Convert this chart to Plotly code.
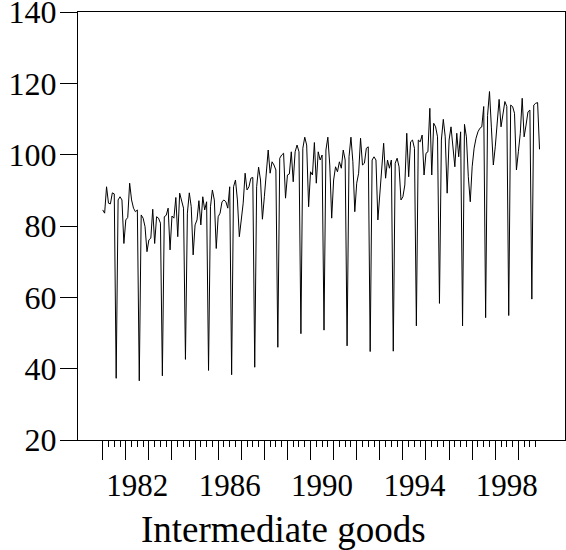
import plotly.graph_objects as go

# Monthly index of intermediate goods production, Jan 1981 - Dec 1999
start_year = 1981
index_values = [
    # 1981
    84.5, 83.6, 91.0, 86.4, 86.2, 89.3, 89.0, 37.3, 87.3, 88.2, 87.3, 75.1,
    # 1982
    81.7, 82.4, 92.0, 87.3, 85.0, 84.0, 84.5, 36.6, 83.1, 82.2, 79.8, 72.8,
    # 1983
    76.1, 76.6, 84.7, 75.1, 82.6, 82.2, 80.8, 38.0, 82.6, 83.0, 85.0, 73.3,
    # 1984
    82.8, 82.2, 88.0, 77.0, 89.2, 87.3, 85.0, 42.6, 83.6, 89.3, 85.4, 71.9,
    # 1985
    80.3, 81.7, 87.1, 80.3, 88.2, 84.5, 86.8, 39.5, 85.4, 90.1, 87.3, 73.7,
    # 1986
    82.6, 83.6, 86.8, 87.3, 86.8, 85.0, 91.0, 38.3, 91.0, 92.9, 87.3, 77.0,
    # 1987
    82.6, 86.4, 94.8, 90.1, 91.0, 93.4, 93.6, 40.4, 91.0, 96.5, 92.9, 81.9,
    # 1988
    88.2, 93.8, 101.3, 94.8, 98.0, 97.1, 95.7, 46.0, 99.0, 99.9, 100.4, 87.8,
    # 1989
    94.3, 94.6, 100.8, 92.4, 100.8, 102.7, 100.8, 49.8, 101.8, 104.9, 102.7, 85.4,
    # 1990
    95.2, 94.3, 103.4, 92.0, 100.8, 98.5, 99.9, 50.8, 101.3, 104.9, 97.1, 82.2,
    # 1991
    92.9, 96.6, 95.2, 98.0, 96.2, 101.3, 98.5, 46.4, 99.4, 104.9, 98.0, 84.0,
    # 1992
    92.0, 94.8, 104.6, 97.1, 97.6, 101.8, 102.2, 44.8, 98.5, 99.4, 98.5, 81.7,
    # 1993
    89.2, 93.8, 103.2, 93.4, 98.5, 96.2, 98.5, 44.9, 97.6, 99.0, 96.6, 87.3,
    # 1994
    88.2, 91.5, 106.0, 93.8, 103.6, 104.1, 101.8, 52.0, 104.1, 103.6, 105.5, 94.3,
    # 1995
    100.4, 100.8, 113.0, 94.3, 108.8, 107.8, 105.0, 58.3, 104.1, 109.9, 105.0, 89.2,
    # 1996
    104.1, 107.8, 103.0, 96.6, 106.0, 99.4, 106.4, 52.0, 108.5, 105.0, 93.8, 86.8,
    # 1997
    96.6, 101.8, 104.6, 106.4, 107.4, 107.8, 113.5, 54.3, 111.0, 117.7, 107.5, 97.1,
    # 1998
    102.2, 108.3, 115.5, 107.8, 111.6, 114.9, 113.5, 54.9, 113.9, 113.5, 111.6, 95.7,
    # 1999
    100.8, 106.0, 115.8, 105.0, 108.3, 112.0, 112.5, 59.5, 113.9, 114.4, 114.6, 101.5,
]

x_time = [start_year + i / 12 for i in range(len(index_values))]

year_ticks = list(range(1981, 2000))
quarter_ticks = [y + q / 4 for y in range(1981, 2000) for q in (1, 2, 3)]
label_years = [1982, 1986, 1990, 1994, 1998]
label_pos = [y + 0.5 for y in label_years]
label_text = [str(y) for y in label_years]
y_ticks = [20, 40, 60, 80, 100, 120, 140]
chart_title = "Intermediate goods"

x_range = [1979.93, 2001.02]
font_family = "Liberation Serif, Times New Roman, serif"

fig = go.Figure()
fig.add_trace(go.Scatter(
    x=x_time, y=index_values, mode="lines",
    line=dict(color="black", width=1),
    xaxis="x", yaxis="y", showlegend=False, hoverinfo="skip",
))
fig.add_trace(go.Scatter(
    x=[label_pos[0]], y=[None], mode="lines",
    xaxis="x2", yaxis="y", showlegend=False, hoverinfo="skip",
))

fig.update_layout(
    width=566, height=550,
    margin=dict(l=78, r=1, t=12, b=110, autoexpand=False),
    paper_bgcolor="white", plot_bgcolor="white",
    font=dict(family=font_family, color="black"),
    showlegend=False,
    xaxis=dict(
        range=x_range, tickmode="array", tickvals=year_ticks,
        ticks="outside", ticklen=19, tickwidth=1, tickcolor="black",
        showticklabels=False, showline=True, linecolor="black", linewidth=1,
        mirror=True, showgrid=False, zeroline=False, automargin=False,
        minor=dict(tickmode="array", tickvals=quarter_ticks, ticks="outside",
                   ticklen=6, tickwidth=1, tickcolor="black", showgrid=False),
    ),
    xaxis2=dict(
        overlaying="x", side="bottom", anchor="y", range=x_range,
        tickmode="array", tickvals=label_pos, ticktext=label_text,
        ticks="outside", ticklen=18, tickcolor="rgba(0,0,0,0)",
        showline=False, showgrid=False, zeroline=False, automargin=False,
        tickfont=dict(family=font_family, size=31, color="black"),
    ),
    yaxis=dict(
        range=[20, 140], tickmode="array", tickvals=y_ticks,
        ticks="outside", ticklen=17, tickwidth=1, tickcolor="black",
        showline=True, linecolor="black", linewidth=1, mirror=True,
        showgrid=False, zeroline=False, automargin=False,
        ticklabeloverflow="allow", ticklabelstandoff=-3,
        tickfont=dict(family=font_family, size=32, color="black"),
    ),
    annotations=[dict(
        text=chart_title, xref="paper", yref="paper",
        x=(283 - 78) / 487, y=(440 - 529) / 428,
        xanchor="center", yanchor="middle", showarrow=False,
        font=dict(family=font_family, size=37, color="black"),
    )],
)

fig.write_html(
    "out.html",
    config={"displayModeBar": False},
    post_script="document.body.style.margin='0';document.body.style.overflow='hidden';",
)
